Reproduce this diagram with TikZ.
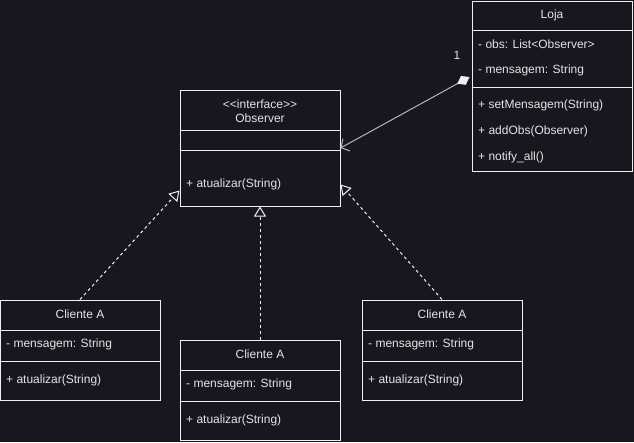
\documentclass[tikz,border=0pt]{standalone}
\usepackage{fontspec}
\newfontfamily\umlfont{Liberation Sans}
\usetikzlibrary{arrows.meta}
\definecolor{bg}{HTML}{18161E}
\definecolor{ink}{HTML}{F0F0F0}
\definecolor{txt}{HTML}{E4E4E4}
\definecolor{assoc}{HTML}{B5B5B5}

\begin{document}
\begin{tikzpicture}[x=1pt,y=-1pt,
  box/.style={draw=ink, line width=1pt, rectangle, inner sep=0pt, minimum width=160pt},
  sep/.style={draw=ink, line width=1pt},
  lbl/.style={text=txt, font=\umlfont\fontsize{12}{14}\selectfont, inner sep=0pt},
  member/.style={lbl, anchor=west},
  realize/.style={draw=ink, line width=1pt, dash pattern=on 3pt off 3pt,
    -{Triangle[open, length=10pt, width=12pt, fill=bg]}},
  assocline/.style={draw=assoc, line width=1pt,
    {Diamond[length=14pt, width=10pt, color=ink, fill=ink]}-{Straight Barb[length=6pt, width=14pt]}}
]
% background and page size
\fill[bg] (0,0) rectangle (634,442);
\useasboundingbox (0,0) rectangle (634,442);

% ---- Loja ----
\node[box, minimum height=170pt] (loja) at (552,86) {};
\draw[sep] (loja.west |- 0,30) -- (loja.east |- 0,30);
\draw[sep] (loja.west |- 0,87) -- (loja.east |- 0,87);
\node[lbl] (lojaT) at (552,15.5) {Loja};
\node[member] (lojaA1) at (478,44.5) {- obs: List<Observer>};
\node[member] (lojaA2) at (478,70.5) {- mensagem: String};
\node[member] (lojaM1) at (478,105.5) {+ setMensagem(String)};
\node[member] (lojaM2) at (478,131.5) {+ addObs(Observer)};
\node[member] (lojaM3) at (478,157.5) {+ notify\_all()};

% ---- Observer ----
\node[box, minimum height=116pt] (obs) at (260,148) {};
\draw[sep] (obs.west |- 0,130) -- (obs.east |- 0,130);
\draw[sep] (obs.west |- 0,150) -- (obs.east |- 0,150);
\node[lbl] (obsS) at (260,104.5) {<<interface>>};
\node[lbl] (obsT) at (260,118.5) {Observer};
\node[member] (obsM) at (186,184.5) {+ atualizar(String)};

% ---- Cliente A (left) ----
\node[box, minimum height=100pt] (cl) at (80,350) {};
\draw[sep] (cl.west |- 0,330) -- (cl.east |- 0,330);
\draw[sep] (cl.west |- 0,361) -- (cl.east |- 0,361);
\node[lbl] (clT) at (80,314.5) {Cliente A};
\node[member] (clA) at (6,344.5) {- mensagem: String};
\node[member] (clM) at (6,380.5) {+ atualizar(String)};

% ---- Cliente A (middle) ----
\node[box, minimum height=100pt] (cm) at (260,390) {};
\draw[sep] (cm.west |- 0,370) -- (cm.east |- 0,370);
\draw[sep] (cm.west |- 0,401) -- (cm.east |- 0,401);
\node[lbl] (cmT) at (260,354.5) {Cliente A};
\node[member] (cmA) at (186,384.5) {- mensagem: String};
\node[member] (cmM) at (186,420.5) {+ atualizar(String)};

% ---- Cliente A (right) ----
\node[box, minimum height=100pt] (cr) at (442,350) {};
\draw[sep] (cr.west |- 0,330) -- (cr.east |- 0,330);
\draw[sep] (cr.west |- 0,361) -- (cr.east |- 0,361);
\node[lbl] (crT) at (442,314.5) {Cliente A};
\node[member] (crA) at (368,344.5) {- mensagem: String};
\node[member] (crM) at (368,380.5) {+ atualizar(String)};

% ---- realizations ----
\draw[realize] (cl.north) -- ([yshift=16pt]obs.south west);
\draw[realize] (cm.north) -- (obs.south);
\draw[realize] (cr.north) -- ([yshift=22pt]obs.south east);

% ---- aggregation ----
\draw[assocline] ([yshift=9pt,xshift=-2pt]loja.west) -- (obs.east);
\node[lbl] (mult) at (457,55.5) {1};
\end{tikzpicture}
\end{document}
